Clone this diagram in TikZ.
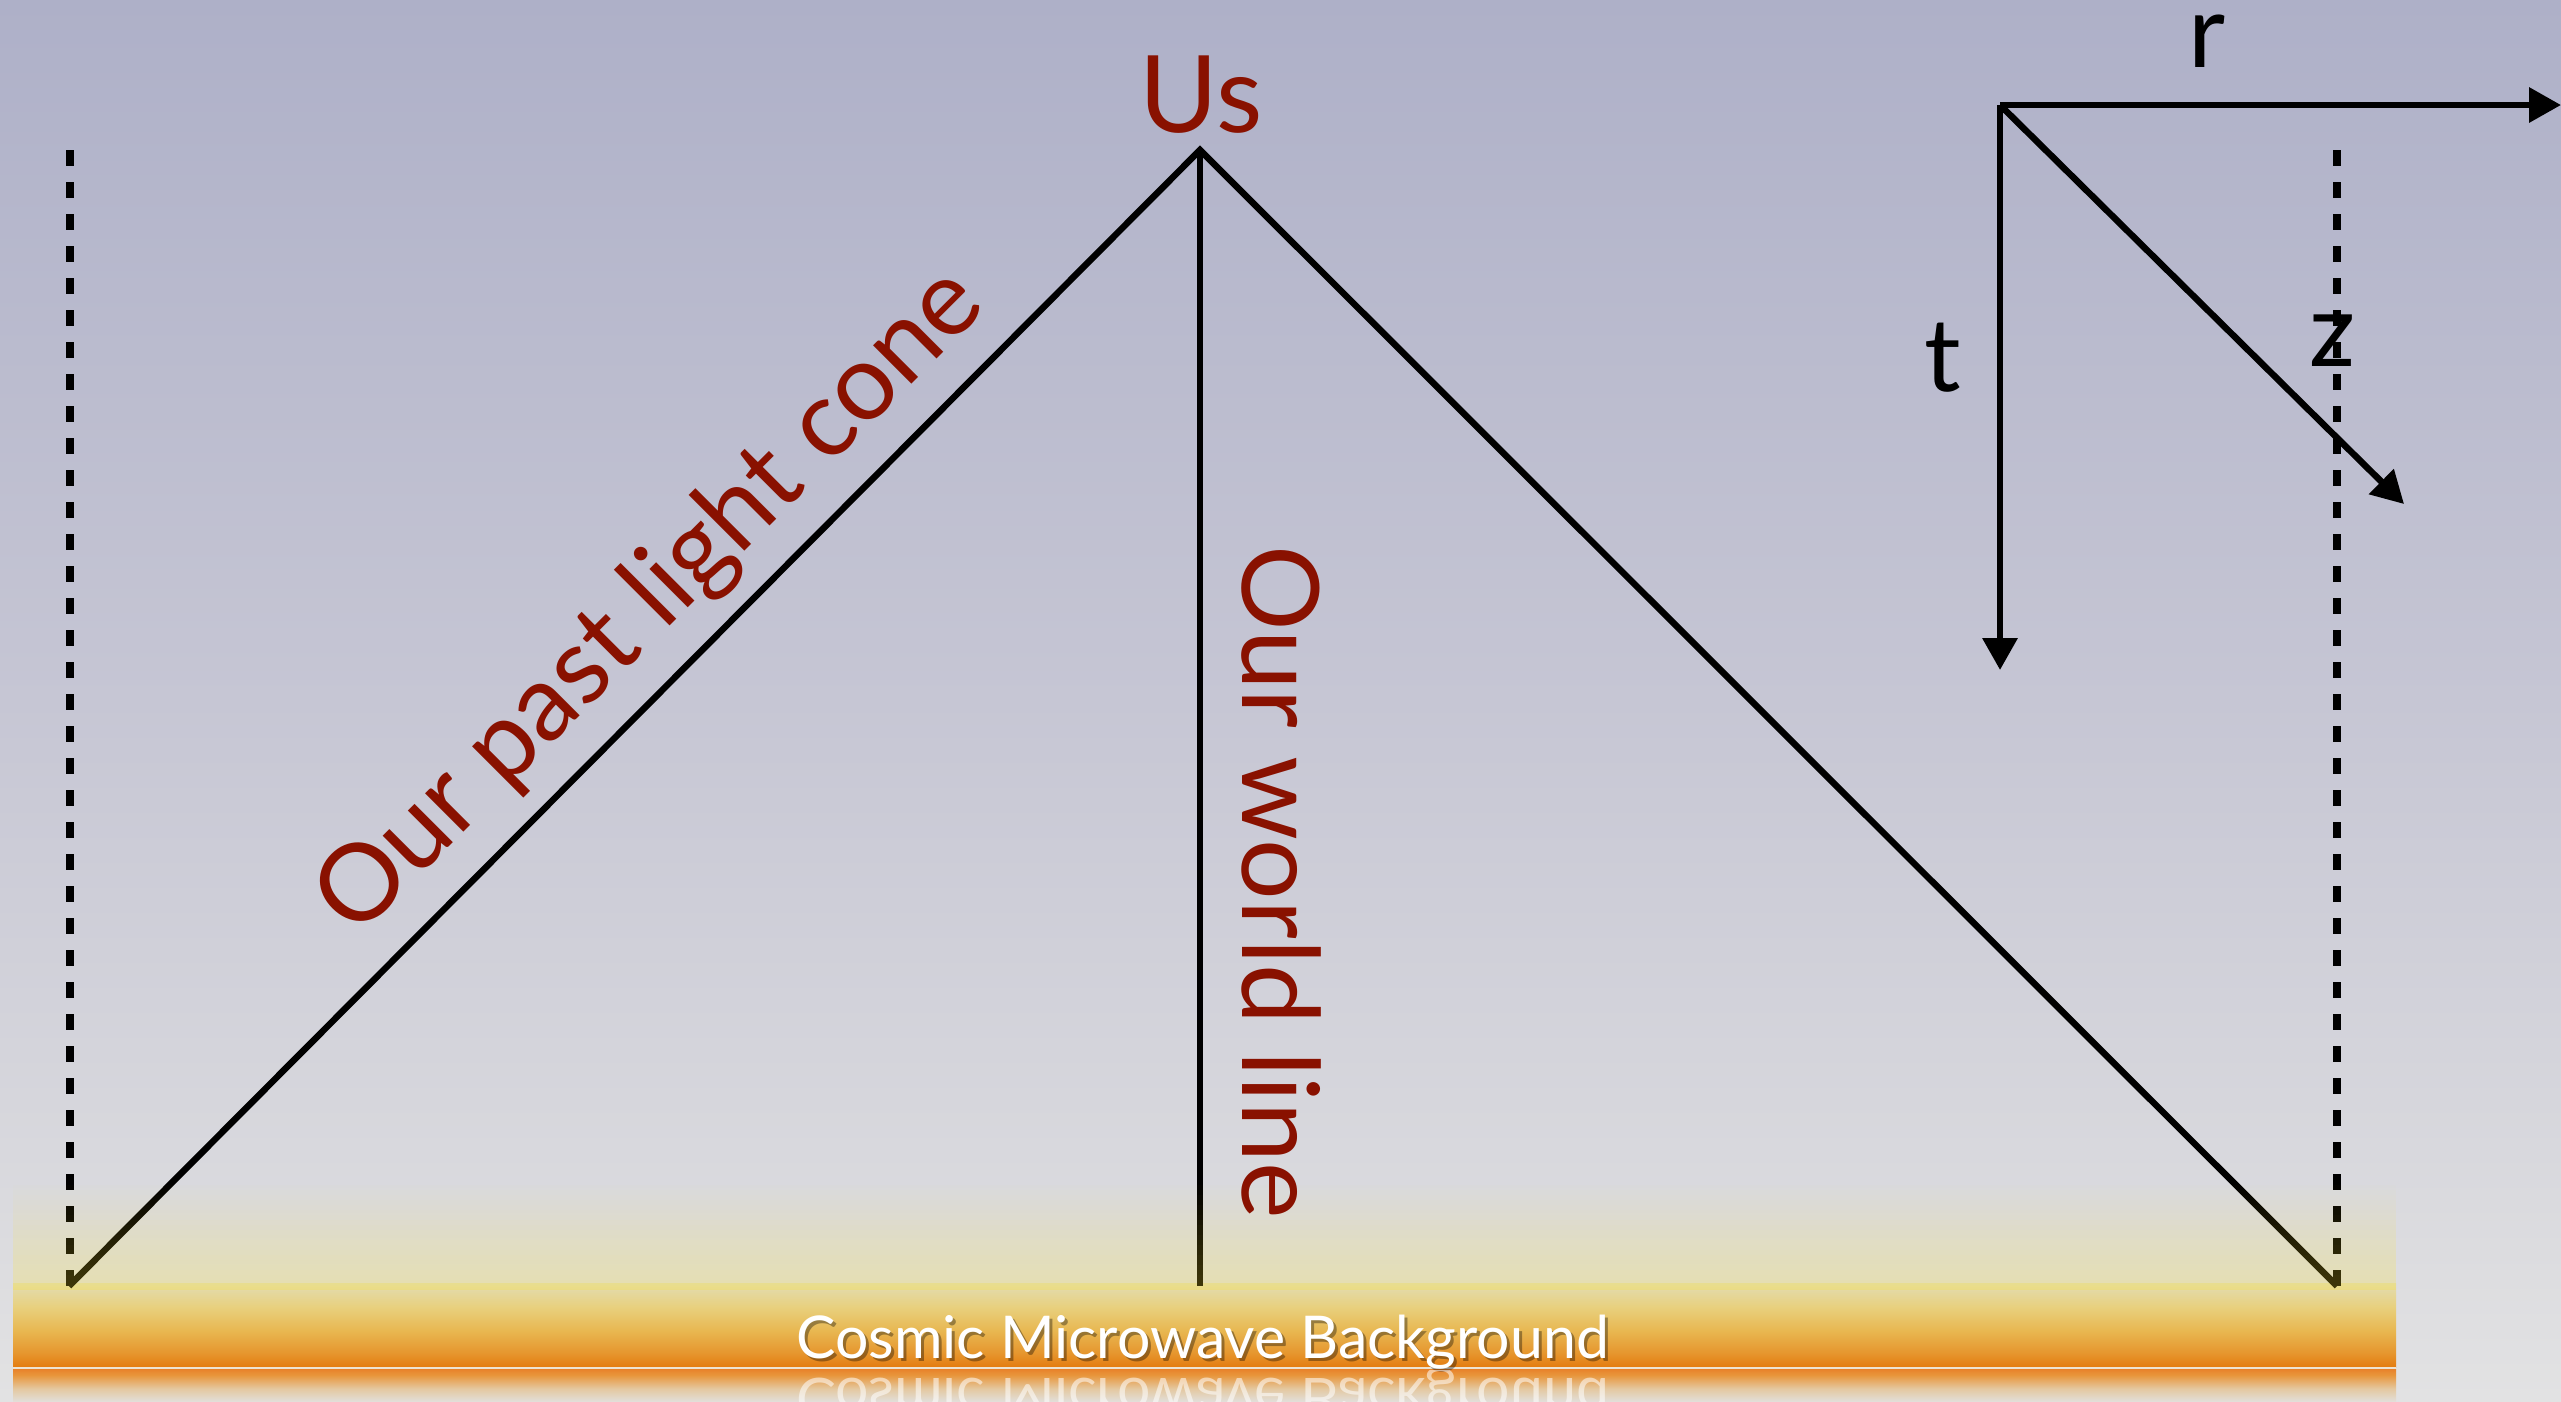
\documentclass[tikz,border=0pt]{standalone}
\usepackage{fontspec}
\setmainfont{Lato}
\usetikzlibrary{arrows.meta}
\definecolor{bgA}{HTML}{AEB0C8}
\definecolor{bgB}{HTML}{C6C6D4}
\definecolor{bgC}{HTML}{DADADE}
\definecolor{bgD}{HTML}{E2E2E3}
\definecolor{cmbred}{RGB}{137,17,0}
\definecolor{bandA}{HTML}{E47C10}
\definecolor{bandB}{HTML}{E6962E}
\definecolor{bandC}{HTML}{E8B852}
\definecolor{bandD}{HTML}{E8D07E}
\definecolor{bandE}{HTML}{E2DCB2}
\definecolor{reflA}{HTML}{E8822A}
\definecolor{reflB}{HTML}{E8963C}
\definecolor{reflC}{HTML}{E4C8A0}
\definecolor{reflD}{HTML}{E2DED8}
\definecolor{glowc}{RGB}{255,228,40}
\definecolor{seamc}{HTML}{EDE3D2}
% TikZ maps a path's box onto 25bp..75bp of a declared shading
\pgfdeclareverticalshading{bgshade}{100bp}{color(0bp)=(bgD); color(25bp)=(bgD); color(32.17bp)=(bgC); color(50.02bp)=(bgB); color(75bp)=(bgA); color(100bp)=(bgA)}
\pgfdeclareverticalshading{bandshade}{100bp}{color(0bp)=(bandA); color(25bp)=(bandA); color(33.33bp)=(bandB); color(47.02bp)=(bandC); color(60.71bp)=(bandD); color(75bp)=(bandE); color(100bp)=(bandE)}
\pgfdeclareverticalshading{reflshade}{100bp}{color(0bp)=(reflD); color(25bp)=(reflD); color(44.35bp)=(reflC); color(65.32bp)=(reflB); color(75bp)=(reflA); color(100bp)=(reflA)}
\newcommand\redlabfont{\fontsize{107}{110}\selectfont}
\newcommand\axlabfont{\fontsize{102}{106}\selectfont}
\newcommand\cmbfont{\fontsize{59}{62}\selectfont}
\begin{document}
\begin{tikzpicture}[x=1pt,y=-1pt,
  redlab/.style={text=cmbred, font=\redlabfont, inner sep=0pt},
  axlab/.style={text=black, font=\axlabfont, inner sep=0pt},
  cmbtext/.style={font=\cmbfont, inner sep=0pt},
  coneline/.style={line width=6.5pt, black},
  dashline/.style={line width=8pt, black, dash pattern=on 16pt off 16pt},
  axisarrow/.style={line width=6.5pt, black, -{Triangle[length=32pt,width=34pt]}}]
\useasboundingbox (0,0) rectangle (2561,1401);
% background
\shade[shading=bgshade] (0,0) rectangle (2561,1401);
% CMB band
\shade[shading=bandshade] (13,1283) rectangle (2396,1367);
\shade[shading=reflshade] (13,1369) rectangle (2396,1401);
\draw[seamc, line width=2pt] (13,1368) -- (2396,1368);
% coordinates
\coordinate (apex) at (1200,150);
\coordinate (bl) at (69,1286);
\coordinate (bm) at (1200,1286);
\coordinate (br) at (2337,1286);
\coordinate (dlt) at (70,150);
\coordinate (dlb) at (70,1286);
\coordinate (drt) at (2337,150);
\coordinate (drb) at (2337,1286);
% dashed lines
\draw[dashline] (dlt) -- (dlb);
\draw[dashline] (drt) -- (drb);
% light cone and world line
\draw[coneline, line join=miter] (bl) -- (apex) -- (br);
\draw[coneline] (apex) -- (bm);
% glow above the band (stacked translucent strips)
\foreach \i in {0,...,21} {
  \fill[glowc, fill opacity={0.012*\i}] (13,{1180+5*\i}) rectangle (2396,{1185+5*\i});
}
% axes
\coordinate (o) at (2000,105);
\coordinate (rt) at (2561,105);
\coordinate (tt) at (2000,670);
\coordinate (zt) at (2404,504);
\draw[axisarrow] (o) -- (rt);
\draw[axisarrow] (o) -- (tt);
\draw[axisarrow] (o) -- (zt);
\node[axlab, anchor=base, text height=52pt] (rlab) at (2207,67) {r};
\node[axlab, anchor=base] (tlab) at (1943,391) {t};
\node[axlab, anchor=base] (zlab) at (2333,366) {z};
% red labels
\node[redlab, anchor=base] (us) at (1201,132) {Us};
\node[redlab, anchor=base west, rotate=45] (cone) at (356,940) {Our past light cone};
\node[redlab, anchor=base west, rotate=-90] (wl) at (1242,545) {Our world line};
% CMB text
\node[cmbtext, text=black, text opacity=0.35, anchor=base west] (cmbsh) at (799,1361) {Cosmic Microwave Background};
\node[cmbtext, text=white, anchor=base west] (cmb) at (796,1358) {Cosmic Microwave Background};
\begin{scope}
\clip (13,1370) rectangle (2396,1401);
\node[cmbtext, text=white, text opacity=0.55, anchor=base west, yscale=-1] (cmbrefl) at (796,1378) {Cosmic Microwave Background};
\end{scope}
\end{tikzpicture}
\end{document}
